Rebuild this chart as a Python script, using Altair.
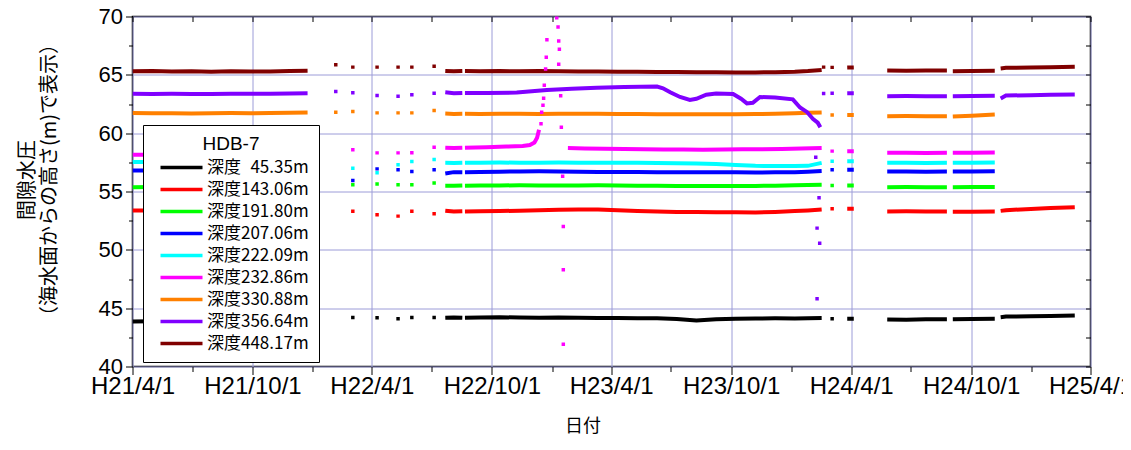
import json
import altair as alt
import pandas as pd

# ---------------- categories / colours ----------------
SERIES = ["深度\u200745.35m", "深度143.06m", "深度191.80m", "深度207.06m", "深度222.09m",
          "深度232.86m", "深度330.88m", "深度356.64m", "深度448.17m"]
COLORS = ["#000000", "#ff0000", "#00ff00", "#0000ff", "#00ffff",
          "#ff00ff", "#ff8000", "#8000ff", "#800000"]
LEGEND_TITLE = "HDB-7"

# x = days since H21/4/1 (2009-04-01)
TICK_DAYS = [0, 183, 365, 548, 730, 913, 1096, 1279, 1461]
TICK_LABELS = ["H21/4/1", "H21/10/1", "H22/4/1", "H22/10/1", "H23/4/1",
               "H23/10/1", "H24/4/1", "H24/10/1", "H25/4/1"]
MINOR_DAYS = [91, 275, 456, 640, 821, 1005, 1187, 1371]
Y_TICKS = [40, 42.5, 45, 47.5, 50, 52.5, 55, 57.5, 60, 62.5, 65, 67.5, 70]

# ---------------- shared day grids of the record segments ----------------
DAYS_A = [0, 30, 60, 90, 120, 150, 180, 210, 240, 267]
DAYS_B1 = [477, 490, 503]
DAYS_B2 = [507, 530, 560, 590, 620, 650, 680, 710, 740, 770, 800, 830, 860, 890,
           920, 950, 980, 1010, 1030, 1051]
DAYS_S = [1090, 1100]
DAYS_C = [1151, 1180, 1210, 1242]
DAYS_D = [1251, 1280, 1315]
DAYS_E = [1324, 1332, 1370, 1400, 1437]
DOT_DAYS = [310, 336, 373, 405, 426, 460, 1067]

# ---------------- 448.17m ----------------
D448_A = [65.30, 65.32, 65.28, 65.31, 65.27, 65.30, 65.28, 65.29, 65.32, 65.35]
D448_DOT = [65.86, 65.66, 65.66, 65.66, 65.66, 65.74, 65.64]
D448_B1 = [65.33, 65.30, 65.32]
D448_B2 = [65.32, 65.31, 65.33, 65.30, 65.32, 65.30, 65.29, 65.28, 65.27, 65.26,
           65.25, 65.24, 65.23, 65.22, 65.21, 65.21, 65.22, 65.27, 65.33, 65.42]
D448_S = [65.62, 65.63]
D448_C = [65.37, 65.36, 65.37, 65.38]
D448_D = [65.31, 65.33, 65.35]
D448_E = [65.55, 65.60, 65.63, 65.66, 65.70]

# ---------------- 356.64m ----------------
D356_A = [63.38, 63.36, 63.37, 63.35, 63.36, 63.37, 63.38, 63.38, 63.40, 63.42]
D356_DOT = [63.57, 63.46, 63.23, 63.17, 63.29, 63.43, 63.43]
D356_B1 = [63.50, 63.42, 63.45]
D356_B2_DAYS = [507, 540, 586, 632, 670, 708, 750, 800, 809, 820, 835, 850, 860, 875,
                890, 916, 928, 937, 946, 957, 980, 1007, 1018, 1029, 1038, 1045, 1049]
D356_B2 = [63.45, 63.44, 63.48, 63.70, 63.80, 63.90, 63.95, 64.00, 63.85, 63.50,
           63.10, 62.85, 62.95, 63.30, 63.40, 63.35, 62.95, 62.55, 62.60, 63.10,
           63.05, 62.90, 62.20, 61.80, 61.20, 60.90, 60.50]
D356_DROP_DAYS = [1042, 1047, 1044, 1048, 1044, 1054]
D356_DROP = [57.94, 54.46, 51.86, 50.57, 45.80, 63.40]
D356_S = [63.43, 63.43]
D356_C = [63.17, 63.18, 63.16, 63.17]
D356_D = [63.17, 63.18, 63.20]
D356_E = [62.97, 63.22, 63.26, 63.29, 63.32]

# ---------------- 330.88m ----------------
D330_A = [61.72, 61.70, 61.71, 61.69, 61.70, 61.72, 61.71, 61.73, 61.75, 61.78]
D330_DOT = [61.80, 61.86, 61.74, 61.74, 61.74, 61.95, 61.56]
D330_B1 = [61.68, 61.65, 61.66]
D330_B2 = [61.66, 61.65, 61.67, 61.66, 61.65, 61.66, 61.67, 61.66, 61.65, 61.64,
           61.63, 61.63, 61.62, 61.62, 61.63, 61.64, 61.66, 61.70, 61.75, 61.78]
D330_S = [61.56, 61.56]
D330_C = [61.46, 61.47, 61.45, 61.46]
D330_D = [61.42, 61.50, 61.60]

# ---------------- 232.86m ----------------
D232_A = [58.15, 58.16, 58.15, 58.17, 58.15, 58.16, 58.17, 58.16, 58.18, 58.20]
D232_DOT = [None, 58.57, 58.31, 58.31, 58.33, 58.80, 58.46]
D232_B1 = [58.75, 58.72, 58.74]
D232_B2A_DAYS = [507, 540, 570, 595, 606, 613, 617, 620]
D232_B2A = [58.75, 58.80, 58.85, 58.90, 58.98, 59.20, 59.60, 60.30]
D232_SPIKE_DAYS = [623, 624, 626, 627, 628, 630, 631, 632,
                   647, 649, 650, 651, 650, 653, 654, 656, 657, 657, 657]
D232_SPIKE = [60.8, 61.8, 62.4, 63.0, 64.1, 65.5, 66.5, 68.0,
              69.9, 69.1, 67.9, 67.2, 65.9, 63.2, 60.5, 56.3, 52.0, 48.3, 41.9]
D232_B2B_DAYS = [664, 690, 720, 750, 780, 810, 840, 870, 900, 930, 960, 990, 1020, 1051]
D232_B2B = [58.72, 58.68, 58.66, 58.64, 58.62, 58.60, 58.60, 58.58, 58.60, 58.62,
            58.63, 58.65, 58.68, 58.72]
D232_S = [58.46, 58.46]
D232_C = [58.32, 58.33, 58.31, 58.32]
D232_D = [58.32, 58.33, 58.35]

# ---------------- 222.09m ----------------
D222_A = [57.52, 57.53, 57.51, 57.52, 57.50, 57.52, 57.53, 57.52, 57.51, 57.52]
D222_DOT = [None, 57.00, 56.60, 57.29, 57.57, 57.74, 57.60]
D222_B1 = [57.46, 57.45, 57.47]
D222_B2 = [57.46, 57.47, 57.48, 57.47, 57.46, 57.48, 57.47, 57.46, 57.47, 57.46,
           57.45, 57.43, 57.40, 57.35, 57.28, 57.20, 57.18, 57.18, 57.20, 57.45]
D222_S = [57.60, 57.60]
D222_C = [57.46, 57.47, 57.45, 57.46]
D222_D = [57.46, 57.47, 57.48]

# ---------------- 207.06m ----------------
D207_A = [56.80, 56.81, 56.79, 56.80, 56.78, 56.80, 56.81, 56.80, 56.79, 56.80]
D207_DOT = [None, 55.95, 56.94, 56.86, 56.71, 56.86, 56.86]
D207_B1 = [56.55, 56.66, 56.65]
D207_B2 = [56.66, 56.68, 56.70, 56.72, 56.73, 56.72, 56.70, 56.68, 56.68, 56.67,
           56.66, 56.65, 56.65, 56.64, 56.64, 56.63, 56.64, 56.66, 56.70, 56.75]
D207_S = [56.86, 56.86]
D207_C = [56.71, 56.72, 56.70, 56.71]
D207_D = [56.71, 56.72, 56.74]

# ---------------- 191.80m ----------------
D191_A = [55.37, 55.38, 55.36, 55.37, 55.35, 55.37, 55.38, 55.37, 55.36, 55.37]
D191_DOT = [None, 55.57, 55.65, 55.57, 55.57, 55.72, 55.52]
D191_B1 = [55.50, 55.50, 55.52]
D191_B2 = [55.50, 55.51, 55.52, 55.53, 55.52, 55.51, 55.52, 55.53, 55.52, 55.50,
           55.49, 55.48, 55.48, 55.47, 55.47, 55.48, 55.50, 55.53, 55.55, 55.57]
D191_S = [55.52, 55.52]
D191_C = [55.37, 55.38, 55.36, 55.37]
D191_D = [55.37, 55.38, 55.39]

# ---------------- 143.06m ----------------
D143_A = [53.37, 53.38, 53.36, 53.37, 53.35, 53.37, 53.38, 53.37, 53.36, 53.37]
D143_DOT = [None, 53.30, 53.00, 52.89, 53.31, 53.09, 53.52]
D143_B1 = [53.35, 53.28, 53.30]
D143_B2 = [53.29, 53.30, 53.32, 53.36, 53.40, 53.44, 53.46, 53.45, 53.40, 53.33,
           53.28, 53.25, 53.24, 53.23, 53.22, 53.20, 53.25, 53.32, 53.38, 53.46]
D143_S = [53.52, 53.52]
D143_C = [53.29, 53.30, 53.28, 53.29]
D143_D = [53.26, 53.27, 53.28]
D143_E = [53.34, 53.40, 53.50, 53.58, 53.66]

# ---------------- 45.35m ----------------
D45_A = [43.86, 43.87, 43.85, 43.86, 43.84, 43.86, 43.87, 43.86, 43.85, 43.86]
D45_DOT = [None, 44.20, 44.18, 44.10, 44.20, 44.20, 44.10]
D45_B1 = [44.18, 44.20, 44.17]
D45_B2 = [44.18, 44.20, 44.22, 44.20, 44.18, 44.20, 44.17, 44.15, 44.16, 44.14,
          44.13, 44.08, 43.95, 44.05, 44.10, 44.12, 44.13, 44.12, 44.14, 44.15]
D45_S = [44.10, 44.10]
D45_C = [44.03, 44.00, 44.04, 44.05]
D45_D = [44.05, 44.07, 44.10]
D45_E = [44.23, 44.28, 44.30, 44.32, 44.37]

# ---------------- assemble tables ----------------
line_rows, dot_rows = [], []


def add_line(series, seg, days, vals):
    for d, v in zip(days, vals):
        line_rows.append({"series": series, "seg": series + "|" + seg, "day": d, "value": v})


def add_dots(series, days, vals):
    for d, v in zip(days, vals):
        if v is not None:
            dot_rows.append({"series": series, "day": d, "value": v})


S45, S143, S191, S207, S222, S232, S330, S356, S448 = SERIES

for s, a, dots, b1, b2, sh, c, d in [
    (S448, D448_A, D448_DOT, D448_B1, D448_B2, D448_S, D448_C, D448_D),
    (S330, D330_A, D330_DOT, D330_B1, D330_B2, D330_S, D330_C, D330_D),
    (S222, D222_A, D222_DOT, D222_B1, D222_B2, D222_S, D222_C, D222_D),
    (S207, D207_A, D207_DOT, D207_B1, D207_B2, D207_S, D207_C, D207_D),
    (S191, D191_A, D191_DOT, D191_B1, D191_B2, D191_S, D191_C, D191_D),
    (S143, D143_A, D143_DOT, D143_B1, D143_B2, D143_S, D143_C, D143_D),
    (S45, D45_A, D45_DOT, D45_B1, D45_B2, D45_S, D45_C, D45_D),
]:
    add_line(s, "A", DAYS_A, a)
    add_dots(s, DOT_DAYS, dots)
    add_line(s, "B1", DAYS_B1, b1)
    add_line(s, "B2", DAYS_B2, b2)
    add_line(s, "S", DAYS_S, sh)
    add_line(s, "C", DAYS_C, c)
    add_line(s, "D", DAYS_D, d)

# purple
add_line(S356, "A", DAYS_A, D356_A)
add_dots(S356, DOT_DAYS, D356_DOT)
add_line(S356, "B1", DAYS_B1, D356_B1)
add_line(S356, "B2", D356_B2_DAYS, D356_B2)
add_dots(S356, D356_DROP_DAYS, D356_DROP)
add_line(S356, "S", DAYS_S, D356_S)
add_line(S356, "C", DAYS_C, D356_C)
add_line(S356, "D", DAYS_D, D356_D)
# pink
add_line(S232, "A", DAYS_A, D232_A)
add_dots(S232, DOT_DAYS, D232_DOT)
add_line(S232, "B1", DAYS_B1, D232_B1)
add_line(S232, "B2a", D232_B2A_DAYS, D232_B2A)
add_dots(S232, D232_SPIKE_DAYS, D232_SPIKE)
add_line(S232, "B2b", D232_B2B_DAYS, D232_B2B)
add_line(S232, "S", DAYS_S, D232_S)
add_line(S232, "C", DAYS_C, D232_C)
add_line(S232, "D", DAYS_D, D232_D)
# last segment (only four depths)
add_line(S448, "E", DAYS_E, D448_E)
add_line(S356, "E", DAYS_E, D356_E)
add_line(S143, "E", DAYS_E, D143_E)
add_line(S45, "E", DAYS_E, D45_E)
add_dots(S448, [1054], [65.66])

df_line = pd.DataFrame(line_rows)
df_dot = pd.DataFrame(dot_rows)

# ---------------- styling ----------------
GRID = "#9c9cd8"
FONT = "Liberation Sans"
JFONT = "Noto Sans CJK JP"
ALL_X = sorted(TICK_DAYS + MINOR_DAYS)
major_x = f"indexof({json.dumps(TICK_DAYS)}, datum.value) >= 0"
major_y = "datum.value % 5 === 0"

xscale = alt.Scale(domain=[0, 1461], nice=False, zero=False)
yscale = alt.Scale(domain=[40, 70], nice=False, zero=False)
cscale = alt.Scale(domain=SERIES, range=COLORS)

x_axis = alt.Axis(
    values=ALL_X,
    labelExpr=f"{json.dumps(TICK_LABELS, ensure_ascii=False)}[indexof({json.dumps(TICK_DAYS)}, datum.value)] || ''",
    labelOverlap=False, labelFlush=False, labelFont=FONT, labelFontSize=24,
    labelColor="black", labelPadding=0,
    grid=True, gridColor=GRID, gridWidth=1,
    gridOpacity={"condition": {"test": major_x, "value": 1}, "value": 0},
    tickSize={"condition": {"test": major_x, "value": 8}, "value": 5},
    tickColor="black", domain=False,
    title="日付", titleFont=JFONT, titleFontSize=18, titleFontWeight="normal",
    titleColor="black", titleX=450, titleY=60, titleBaseline="middle",
)
y_axis = alt.Axis(
    values=Y_TICKS, format=".0f",
    labelExpr=f"{major_y} ? datum.label : ''",
    labelFont=FONT, labelFontSize=22, labelColor="black", labelPadding=3,
    grid=True, gridColor=GRID, gridWidth=1,
    gridOpacity={"condition": {"test": major_y, "value": 1}, "value": 0},
    tickSize={"condition": {"test": major_y, "value": 7}, "value": 4},
    tickColor="black", domain=False,
    title=["間隙水圧", "（海水面からの高さ(m)で表示）"], titleFont=JFONT, titleFontSize=20,
    titleFontWeight="normal", titleColor="black", titleX=-95, titleY=163,
    titleLineHeight=22,
)
legend = alt.Legend(
    title=LEGEND_TITLE, orient="none", legendX=10.5, legendY=108.5,
    symbolType="M-1,0H41", symbolSize=4, symbolStrokeWidth=3.5,
    labelFont=JFONT, labelFontSize=17, labelColor="black", labelOffset=37,
    titleFont=FONT, titleFontSize=19, titleFontWeight="normal", titleColor="black",
    titleAnchor="middle", titlePadding=5, padding=10, rowPadding=4,
    fillColor="white", strokeColor="black", zindex=1,
)

lines = alt.Chart(df_line).mark_line(strokeWidth=4, clip=True).encode(
    x=alt.X("day:Q", scale=xscale, axis=x_axis),
    y=alt.Y("value:Q", scale=yscale, axis=y_axis),
    color=alt.Color("series:N", scale=cscale, legend=legend),
    detail="seg:N",
)

dots = alt.Chart(df_dot).mark_square(size=12, opacity=1, clip=True).encode(
    x=alt.X("day:Q", scale=xscale, axis=alt.Axis(
        orient="top", values=ALL_X, labels=False, grid=False, domain=False,
        tickSize=5, tickColor="black", offset=-5, title=None)),
    y=alt.Y("value:Q", scale=yscale, axis=alt.Axis(
        orient="right", values=Y_TICKS, labels=False, grid=False, domain=False,
        tickSize=5, tickColor="black", offset=-5, title=None)),
    color=alt.Color("series:N", scale=cscale, legend=None),
)

chart = (
    alt.layer(lines, dots)
    .resolve_axis(x="independent", y="independent")
    .properties(
        width=958, height=350,
        autosize=alt.AutoSizeParams(type="none"),
        padding={"left": 124.5, "top": 8.5, "right": 32.5, "bottom": 70},
        background="white",
    )
    .configure_view(stroke="black", strokeWidth=1.5)
)

chart.save("out.html", embed_options={"renderer": "svg", "actions": False})
